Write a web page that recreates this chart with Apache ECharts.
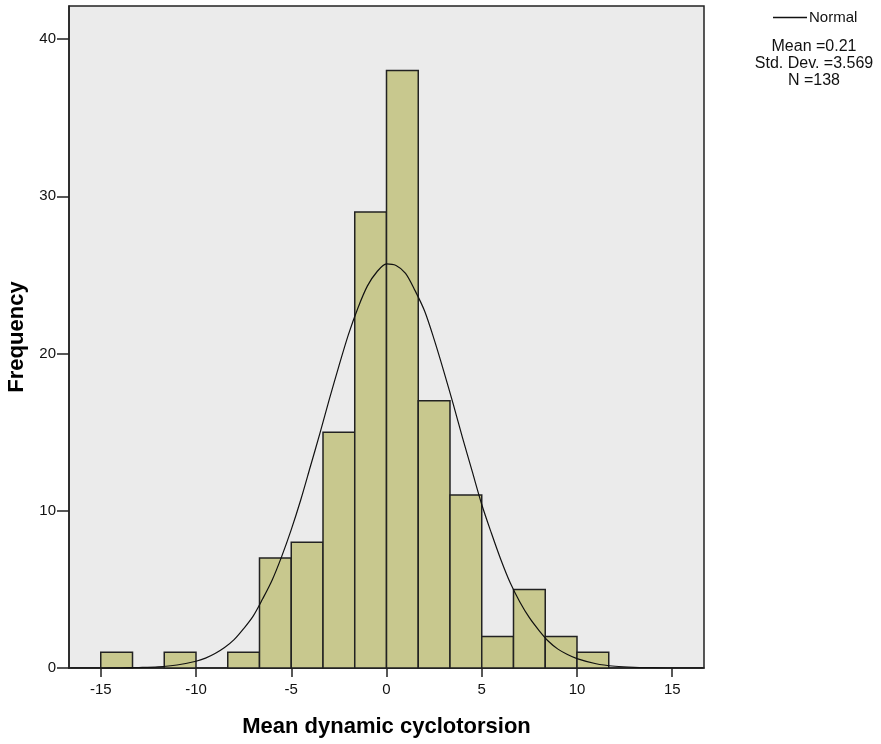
<!DOCTYPE html>
<html>
<head>
<meta charset="utf-8">
<script src="https://cdn.jsdelivr.net/npm/echarts@6/dist/echarts.min.js"></script>
<style>
  html, body { margin: 0; padding: 0; background: #fff; }
  #main { width: 881px; height: 744px; }
</style>
</head>
<body>
<div id="main"></div>
<script>
// histogram bins (lower edge, upper edge, count)
var binLow  = [-15, -13.333, -11.667, -10, -8.333, -6.667, -5, -3.333, -1.667, 0, 1.667, 3.333, 5, 6.667, 8.333, 10];
var binHigh = [-13.333, -11.667, -10, -8.333, -6.667, -5, -3.333, -1.667, 0, 1.667, 3.333, 5, 6.667, 8.333, 10, 11.667];
var counts  = [1, 0, 1, 0, 1, 7, 8, 15, 29, 38, 17, 11, 2, 5, 2, 1];

// normal curve
var curveX = [-16.6, -15, -14, -13, -12, -11, -10, -9.5, -9, -8.5, -8, -7.5, -7, -6.5, -6, -5.5, -5, -4.5, -4, -3.5, -3, -2.5, -2, -1.5, -1, -0.5,
              0, 0.5, 1, 1.5, 2, 2.5, 3, 3.5, 4, 4.5, 5, 5.5, 6, 6.5, 7, 7.5, 8, 8.5, 9, 9.5, 10, 11, 12, 13, 14, 15, 16.6];
var curveY = [0, 0, 0.01, 0.03, 0.07, 0.19, 0.43, 0.63, 0.92, 1.3, 1.8, 2.5, 3.3, 4.4, 5.6, 7.1, 8.8, 10.7, 12.8, 14.9, 17.1, 19.2, 21.2, 22.9, 24.3, 25.2,
              25.7, 25.6, 25.1, 24.0, 22.7, 20.9, 18.9, 16.8, 14.6, 12.5, 10.4, 8.6, 6.9, 5.4, 4.2, 3.2, 2.4, 1.7, 1.2, 0.86, 0.6, 0.27, 0.11, 0.04, 0.02, 0, 0];

var xTicks = [-15, -10, -5, 0, 5, 10, 15];
var yTicks = [0, 10, 20, 30, 40];
var statLines = ['Mean =0.21', 'Std. Dev. =3.569', 'N =138'];

var histData = [];
for (var i = 0; i < counts.length; i++) {
    histData.push([binLow[i], binHigh[i], counts[i]]);
}
var curveData = [];
for (var j = 0; j < curveX.length; j++) {
    curveData.push([curveX[j], curveY[j]]);
}

var myChart = echarts.init(document.getElementById('main'));

var option = {
    backgroundColor: '#fff',
    animation: false,
    textStyle: { fontFamily: 'Liberation Sans, Arial, sans-serif' },
    grid: {
        left: 69, right: 177, top: 6, bottom: 76,
        outerBoundsMode: 'none',
        containLabel: false,
        show: true,
        backgroundColor: '#ebebeb',
        borderColor: '#222',
        borderWidth: 1.5
    },
    legend: {
        data: ['Normal'],
        left: 768, top: 5,
        icon: 'rect',
        itemWidth: 34, itemHeight: 1.5,
        itemGap: 4,
        textStyle: { fontSize: 15, color: '#111', padding: [0, 0, 0, -3] }
    },
    graphic: statLines.map(function (s, k) {
        return {
            type: 'text',
            x: 814, y: 39 + k * 17,
            style: {
                text: s, fill: '#111', fontSize: 16,
                fontFamily: 'Liberation Sans, Arial, sans-serif',
                align: 'center'
            }
        };
    }),
    xAxis: {
        type: 'value',
        min: -16.667, max: 16.667,
        name: 'Mean dynamic cyclotorsion',
        nameLocation: 'middle',
        nameGap: 48,
        nameTextStyle: { fontSize: 22, fontWeight: 'bold', color: '#000' },
        splitLine: { show: false },
        axisLine: { show: true, onZero: false, lineStyle: { color: '#222', width: 1.5 } },
        axisTick: { show: true, length: 9, customValues: xTicks, lineStyle: { color: '#222', width: 1.5 } },
        axisLabel: { customValues: xTicks, fontSize: 15, color: '#111', margin: 14 }
    },
    yAxis: {
        type: 'value',
        min: 0, max: 42.1, interval: 10,
        name: 'Frequency',
        nameLocation: 'middle',
        nameGap: 38,
        nameTextStyle: { fontSize: 22, fontWeight: 'bold', color: '#000' },
        splitLine: { show: false },
        axisLine: { show: true, onZero: false, lineStyle: { color: '#222', width: 1.5 } },
        axisTick: { show: true, length: 12, customValues: yTicks, lineStyle: { color: '#222', width: 1.5 } },
        axisLabel: { customValues: yTicks, fontSize: 15, color: '#111', margin: 13 }
    },
    series: [{
        name: 'Histogram',
        type: 'custom',
        renderItem: function (params, api) {
            if (api.value(2) === 0) { return null; }
            var lo = api.coord([api.value(0), api.value(2)]);
            var hi = api.coord([api.value(1), 0]);
            return {
                type: 'rect',
                shape: { x: lo[0], y: lo[1], width: hi[0] - lo[0], height: hi[1] - lo[1] },
                style: { fill: '#c8c88e', stroke: '#222', lineWidth: 1.5 }
            };
        },
        encode: { x: [0, 1], y: 2 },
        data: histData,
        z: 2
    }, {
        name: 'Normal',
        type: 'line',
        data: curveData,
        smooth: 0.3,
        showSymbol: false,
        lineStyle: { color: '#111', width: 1.2 },
        itemStyle: { color: '#111' },
        z: 3
    }]
};

myChart.setOption(option);
</script>
</body>
</html>
